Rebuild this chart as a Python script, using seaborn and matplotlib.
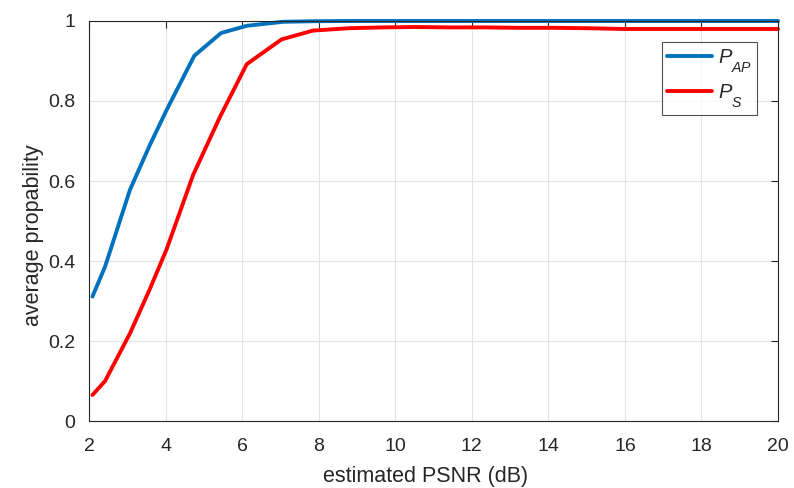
import numpy as np
import pandas as pd
import matplotlib
matplotlib.use("Agg")
import matplotlib.pyplot as plt
import matplotlib._mathtext as _mt
import seaborn as sns

psnr_ap = [2.09, 2.42, 3.07, 3.59, 4.03, 4.75, 5.45, 6.12, 7.07, 7.9, 8.8, 9.7, 10.6, 11.5, 12.4, 13.3, 14.2, 15.1, 16.0, 17.0, 18.0, 19.0, 20.0]
p_ap = [0.311, 0.386, 0.578, 0.69, 0.778, 0.913, 0.97, 0.988, 0.998, 0.9995, 1.0, 1.0, 1.0, 1.0, 1.0, 1.0, 1.0, 1.0, 1.0, 1.0, 1.0, 1.0, 1.0]
psnr_s = [2.09, 2.42, 3.07, 3.59, 4.03, 4.72, 5.42, 6.12, 7.03, 7.85, 8.8, 9.7, 10.5, 11.4, 12.3, 13.2, 14.1, 15.0, 16.0, 17.0, 18.0, 19.0, 20.0]
p_s = [0.065, 0.10, 0.219, 0.33, 0.43, 0.615, 0.76, 0.892, 0.954, 0.976, 0.982, 0.984, 0.985, 0.984, 0.984, 0.983, 0.983, 0.982, 0.980, 0.980, 0.980, 0.980, 0.980]
labels = ["$P_{AP}$", "$P_{S}$"]
colors = ["#0072BD", "#FF0000"]

df = pd.concat([
    pd.DataFrame({"psnr": psnr_ap, "p": p_ap, "series": labels[0]}),
    pd.DataFrame({"psnr": psnr_s, "p": p_s, "series": labels[1]}),
])

# deeper subscripts, like the MATLAB legend
_mt.FontConstantsBase.sub1 = 0.9

sns.set_style("white")
plt.rcParams["font.family"] = ["Liberation Sans", "DejaVu Sans"]
plt.rcParams["mathtext.fontset"] = "custom"
plt.rcParams["mathtext.it"] = "Liberation Sans:italic"
plt.rcParams["mathtext.rm"] = "Liberation Sans"

TXT = "#262626"
fig = plt.figure(figsize=(7.94, 4.88), dpi=100)
ax = fig.add_axes([89/794, (488-421)/488, (778-89)/794, 400/488])

sns.lineplot(data=df, x="psnr", y="p", hue="series", palette=dict(zip(labels, colors)),
             linewidth=2.8, ax=ax, sort=False)
for ln in ax.lines:
    ln.set_clip_on(False)

ax.set_xlim(2, 20)
ax.set_ylim(0, 1)
ax.set_xticks(np.arange(2, 21, 2))
ax.set_yticks([0, 0.2, 0.4, 0.6, 0.8, 1])
ax.set_yticklabels(["0", "0.2", "0.4", "0.6", "0.8", "1"])
ax.grid(True, color="#e3e3e3", linewidth=0.8)
ax.set_axisbelow(True)
for s in ax.spines.values():
    s.set_visible(True)
    s.set_color(TXT)
    s.set_linewidth(0.8)
ax.tick_params(direction="in", length=5, width=0.8, color=TXT, top=True, right=True,
               labelsize=14, labelcolor=TXT)
ax.tick_params(axis="x", pad=12)
ax.tick_params(axis="y", pad=10)
ax.set_xlabel("estimated PSNR (dB)", fontsize=15.5, color=TXT)
ax.set_ylabel("average propability", fontsize=15.5, color=TXT)
ax.xaxis.set_label_coords(0.4884, -0.1125)
ax.yaxis.set_label_coords(-0.0653, 0.465)

leg = ax.legend(loc="upper right", bbox_to_anchor=(0.9695, 0.9475), fontsize=14.5, frameon=True,
                fancybox=False, edgecolor=TXT, handlelength=2.2, borderpad=0.25,
                labelspacing=0.36, handletextpad=0.3, borderaxespad=0.0, title=None)
leg.get_frame().set_linewidth(0.8)

fig.savefig("out.png", dpi=100)
